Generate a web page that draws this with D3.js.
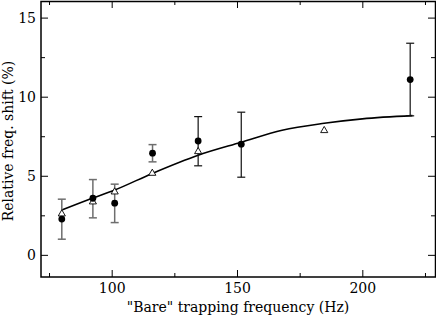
<!DOCTYPE html>
<html>
<head>
<meta charset="utf-8">
<script src="https://cdn.jsdelivr.net/npm/d3@7"></script>
<style>
  body { margin: 0; background: #fff; }
  svg { display: block; }
</style>
</head>
<body>
<svg id="chart" width="436" height="318"></svg>
<script>
// measured points (filled circles, with error bars)
var measFreq = [80.1, 92.5, 101.2, 116.3, 134.5, 151.7, 219.1];
var measShift = [2.26, 3.58, 3.27, 6.43, 7.2, 7.0, 11.08];
var measLow = [0.99, 2.34, 2.04, 5.88, 5.63, 4.91, 8.79];
var measHigh = [3.52, 4.76, 4.47, 6.97, 8.74, 9.02, 13.38];
var barGrey = [true, true, true, true, false, false, false];

// computed points (open triangles)
var calcFreq = [80.1, 92.5, 101.2, 116.2, 134.5, 184.8];
var calcShift = [2.59, 3.35, 3.98, 5.16, 6.53, 7.86];

// fitted curve
var fitFreq = [80.1, 92.5, 101.2, 116.2, 134.5, 151.7, 168, 184.8, 200, 220];
var fitShift = [2.84, 3.6, 4.1, 5.15, 6.3, 7.12, 7.88, 8.32, 8.6, 8.8];

var xMajor = [100, 150, 200];
var xMinor = [75, 125, 175, 225];
var yMajor = [0, 5, 10, 15];
var yMinor = [2.5, 7.5, 12.5];

var FONT = "'DejaVu Serif', 'Liberation Serif', serif";
var FSIZE = 14;

var svg = d3.select("#chart");
var pLeft = 41, pRight = 435, pTop = 1, pBottom = 277;

var x = d3.scaleLinear().domain([71.8, 229]).range([pLeft, pRight]);
var y = d3.scaleLinear().domain([-1.4, 16.05]).range([pBottom, pTop]);

function addAxis(axis, tx, ty) {
    var g = svg.append("g")
        .attr("transform", "translate(" + tx + "," + ty + ")")
        .call(axis);
    g.attr("font-family", FONT).attr("font-size", FSIZE);
    g.select(".domain").remove();
    g.selectAll("line").attr("stroke", "#000").attr("stroke-width", 1);
    g.selectAll("text").attr("fill", "#000");
    return g;
}

// bottom / top
addAxis(d3.axisBottom(x).tickValues(xMajor).tickSize(-7).tickPadding(6), 0, pBottom);
addAxis(d3.axisBottom(x).tickValues(xMinor).tickSize(-4).tickFormat(""), 0, pBottom);
addAxis(d3.axisTop(x).tickValues(xMajor).tickSize(-7).tickFormat(""), 0, pTop);
addAxis(d3.axisTop(x).tickValues(xMinor).tickSize(-4).tickFormat(""), 0, pTop);
// left / right
addAxis(d3.axisLeft(y).tickValues(yMajor).tickSize(-7).tickPadding(5), pLeft, 0);
addAxis(d3.axisLeft(y).tickValues(yMinor).tickSize(-4).tickFormat(""), pLeft, 0);
addAxis(d3.axisRight(y).tickValues(yMajor).tickSize(-7).tickFormat(""), pRight, 0);
addAxis(d3.axisRight(y).tickValues(yMinor).tickSize(-4).tickFormat(""), pRight, 0);

// frame
svg.append("rect")
    .attr("x", pLeft).attr("y", pTop + 0.5)
    .attr("width", pRight - pLeft + 0.5).attr("height", pBottom - pTop - 0.5)
    .attr("fill", "none").attr("stroke", "#000").attr("stroke-width", 1.5);

// fitted curve
var line = d3.line()
    .x(function (d) { return x(d[0]); })
    .y(function (d) { return y(d[1]); })
    .curve(d3.curveMonotoneX);
svg.append("path")
    .datum(d3.zip(fitFreq, fitShift))
    .attr("d", line)
    .attr("fill", "none")
    .attr("stroke", "#000")
    .attr("stroke-width", 1.6);

// error bars
var meas = measFreq.map(function (f, i) {
    return { f: f, v: measShift[i], lo: measLow[i], hi: measHigh[i], grey: barGrey[i] };
});
var bars = svg.append("g").selectAll("g").data(meas).enter().append("g")
    .attr("stroke", function (d) { return d.grey ? "#6e6e6e" : "#111"; })
    .attr("stroke-width", function (d) { return d.grey ? 1.5 : 1.2; });
bars.append("line")
    .attr("x1", function (d) { return x(d.f); }).attr("x2", function (d) { return x(d.f); })
    .attr("y1", function (d) { return y(d.lo); }).attr("y2", function (d) { return y(d.hi); });
bars.append("line")
    .attr("x1", function (d) { return x(d.f) - 4; }).attr("x2", function (d) { return x(d.f) + 4; })
    .attr("y1", function (d) { return y(d.lo); }).attr("y2", function (d) { return y(d.lo); });
bars.append("line")
    .attr("x1", function (d) { return x(d.f) - 4; }).attr("x2", function (d) { return x(d.f) + 4; })
    .attr("y1", function (d) { return y(d.hi); }).attr("y2", function (d) { return y(d.hi); });

// triangles
var tri = d3.symbol().type(d3.symbolTriangle).size(22);
svg.append("g").selectAll("path")
    .data(d3.zip(calcFreq, calcShift))
    .enter().append("path")
    .attr("d", tri)
    .attr("transform", function (d) { return "translate(" + x(d[0]) + "," + y(d[1]) + ")"; })
    .attr("fill", "#fff")
    .attr("stroke", "#000")
    .attr("stroke-width", 0.9);

// filled circles
svg.append("g").selectAll("circle")
    .data(meas)
    .enter().append("circle")
    .attr("cx", function (d) { return x(d.f); })
    .attr("cy", function (d) { return y(d.v); })
    .attr("r", 3.4)
    .attr("fill", "#000");

// axis titles
svg.append("text")
    .attr("x", (pLeft + pRight) / 2).attr("y", 312)
    .attr("text-anchor", "middle")
    .attr("font-family", FONT)
    .attr("font-size", FSIZE)
    .text("\"Bare\" trapping frequency (Hz)");

svg.append("text")
    .attr("transform", "translate(13," + ((pTop + pBottom) / 2 + 2) + ") rotate(-90)")
    .attr("text-anchor", "middle")
    .attr("font-family", FONT)
    .attr("font-size", FSIZE)
    .text("Relative freq. shift (%)");
</script>
</body>
</html>
